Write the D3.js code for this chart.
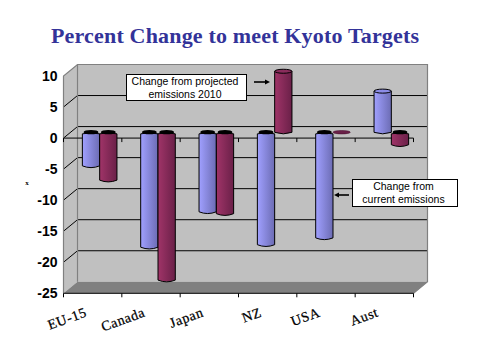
<!DOCTYPE html>
<html>
<head>
  <meta charset="utf-8">
  <title>Percent Change to meet Kyoto Targets</title>
  <style>
    html, body { margin: 0; padding: 0; background: #fff; }
    svg { display: block; }
    .ytick text { font-family: "Liberation Sans", sans-serif; font-weight: bold; font-size: 14px; fill: #000; }
    .cat { font-family: "Liberation Serif", serif; font-size: 14px; fill: #000; stroke: #000; stroke-width: 0.25px; }
    .note { font-family: "Liberation Sans", sans-serif; font-size: 10.5px; fill: #000; text-anchor: middle; }
  </style>
</head>
<body>
  <div id="chart"></div>
  <script src="https://d3js.org/d3.v7.min.js"></script>
  <script>
    const categories = ['EU-15', 'Canada', 'Japan', 'NZ', 'USA', 'Aust'];
    const seriesNames = ['current', 'projected'];
    const currentValues = [-5.4, -18.5, -12.8, -18.1, -17, 6.8];
    const projectedValues = [-7.7, -23.8, -13.1, 10, 0.1, -2];
    const yTicks = [10, 5, 0, -5, -10, -15, -20, -25];
    const noteProjected = ['Change from projected', 'emissions 2010'];
    const noteCurrent = ['Change from', 'current emissions'];

    const width = 478, height = 359;
    const plotLeft = 63.5, plotRight = 413.5, plotTop = 76, plotBottom = 293.3;
    const depth = { x: 14, y: 11.5 };

    const svg = d3.select('#chart').append('svg')
      .attr('width', width)
      .attr('height', height);

    // gradients for the cylinders
    const defs = svg.append('defs');
    const gradients = { current: ['#a0a0ff', '#6c6cb4'], projected: ['#a03468', '#6a2048'] };
    seriesNames.forEach(name => {
      const g = defs.append('linearGradient').attr('id', 'grad-' + name);
      g.append('stop').attr('offset', '0%').attr('stop-color', gradients[name][0]);
      g.append('stop').attr('offset', '100%').attr('stop-color', gradients[name][1]);
    });

    const x = d3.scaleBand().domain(categories).range([plotLeft, plotRight]);
    const y = d3.scaleLinear().domain([-25, 10]).range([plotBottom, plotTop]);
    const inner = d3.scaleBand().domain(seriesNames).range([0, 34.6])
      .paddingInner(0);
    const barLeft = (x.bandwidth() - inner.range()[1]) / 2 + depth.x / 2;

    // title
    svg.append('text')
      .attr('x', 51).attr('y', 43)
      .attr('textLength', 368)
      .attr('font-family', '"Liberation Serif", serif')
      .attr('font-weight', 'bold')
      .attr('font-size', 22)
      .attr('fill', '#333399')
      .text('Percent Change to meet Kyoto Targets');

    // walls and floor
    const wall = '#c0c0c0', edge = '#808080';
    const pts = a => a.map(p => p.join(',')).join(' ');
    svg.append('polygon').attr('fill', wall)
      .attr('points', pts([[plotLeft, plotTop], [plotLeft + depth.x, plotTop - depth.y], [plotRight + depth.x, plotTop - depth.y], [plotRight + depth.x, plotBottom - depth.y], [plotLeft + depth.x, plotBottom - depth.y], [plotLeft, plotBottom]]));
    svg.append('polygon').attr('fill', edge)
      .attr('points', pts([[plotLeft, plotBottom], [plotLeft + depth.x, plotBottom - depth.y], [plotRight + depth.x, plotBottom - depth.y], [plotRight, plotBottom]]));

    // grid
    yTicks.filter(d => d > -25 && d < 10).forEach(d => {
      svg.append('polyline').attr('fill', 'none').attr('stroke', '#000')
        .attr('points', pts([[plotLeft, y(d)], [plotLeft + depth.x, y(d) - depth.y], [plotRight + depth.x, y(d) - depth.y]]));
    });
    svg.append('polyline').attr('fill', 'none').attr('stroke', edge).attr('stroke-width', 1.2)
      .attr('points', pts([[plotLeft, plotBottom], [plotLeft, plotTop], [plotLeft + depth.x, plotTop - depth.y], [plotRight + depth.x, plotTop - depth.y], [plotRight + depth.x, plotBottom - depth.y], [plotRight, plotBottom]]));
    svg.append('line').attr('stroke', edge).attr('stroke-width', 1.2)
      .attr('x1', plotLeft + depth.x).attr('x2', plotLeft + depth.x)
      .attr('y1', plotTop - depth.y).attr('y2', plotBottom - depth.y);

    // y axis labels
    svg.append('g')
      .attr('class', 'ytick')
      .attr('transform', `translate(${plotLeft},0)`)
      .call(d3.axisLeft(y).tickValues(yTicks).tickSize(0).tickPadding(6).tickFormat(d => String(d)))
      .call(g => g.select('.domain').remove());

    // zero line and bottom line with ticks at the category edges
    const edges = categories.map(c => x(c)).concat(plotRight);
    [0, -25].forEach(v => {
      svg.append('line').attr('stroke', '#000')
        .attr('x1', plotLeft).attr('x2', plotRight).attr('y1', y(v)).attr('y2', y(v));
      svg.selectAll(null).data(edges).join('line').attr('stroke', '#000')
        .attr('x1', d => d).attr('x2', d => d)
        .attr('y1', y(v)).attr('y2', y(v) + 4);
    });

    // cylinders sit half way into the depth of the box
    const rows = categories.flatMap((c, i) => [
      { cat: c, name: 'current', value: currentValues[i] },
      { cat: c, name: 'projected', value: projectedValues[i] }
    ]);
    const midY = v => y(v) - depth.y / 2;

    const bars = svg.selectAll('.bar').data(rows).join('g').attr('class', 'bar')
      .attr('transform', d => `translate(${x(d.cat) + barLeft + inner(d.name)},0)`);

    bars.each(function (d) {
      const g = d3.select(this);
      const w = inner.bandwidth(), rx = w / 2, fill = `url(#grad-${d.name})`;
      const y0 = midY(0), y1 = midY(d.value);
      if (Math.abs(d.value) < 0.5) {
        // nearly zero: only a flat sliver is left
        g.append('ellipse').attr('cx', rx).attr('cy', y1 + 0.5).attr('rx', rx).attr('ry', 1.7)
          .attr('fill', '#6a2048').attr('stroke', '#4a1030').attr('stroke-width', 0.6);
      } else if (d.value < 0) {
        g.append('path')
          .attr('d', `M0,${y0 + 1.5}L0,${y1}Q${rx},${y1 + 3.5} ${w},${y1}L${w},${y0 + 1.5}Q${rx},${y0 - 0.5} 0,${y0 + 1.5}Z`)
          .attr('fill', fill).attr('stroke', '#000').attr('stroke-width', 1);
        g.append('ellipse').attr('cx', rx).attr('cy', y0 - 0.2).attr('rx', rx - 1.2).attr('ry', 2.2)
          .attr('fill', '#000');
      } else {
        g.append('path')
          .attr('d', `M0,${y1 + 1}L0,${y0}Q${rx},${y0 + 3} ${w},${y0}L${w},${y1 + 1}Z`)
          .attr('fill', fill).attr('stroke', '#000').attr('stroke-width', 1);
        g.append('ellipse').attr('cx', rx).attr('cy', y1 + 1).attr('rx', rx).attr('ry', 2)
          .attr('fill', d.name === 'current' ? '#8c8ce6' : '#8a2c5c').attr('stroke', '#000').attr('stroke-width', 1);
      }
    });

    // category labels
    svg.selectAll('.cat').data(categories).join('text')
      .attr('class', 'cat')
      .attr('text-anchor', 'end')
      .attr('letter-spacing', 0.6)
      .attr('transform', d => `translate(${x(d) + x.bandwidth() / 2 - 5},316) rotate(-20)`)
      .text(d => d);

    // stray axis title mark
    svg.append('text').attr('x', 27).attr('y', 185)
      .attr('text-anchor', 'middle')
      .attr('font-family', '"Liberation Serif", serif')
      .attr('font-weight', 'bold').attr('font-size', 7)
      .text('x');

    // callouts
    function note(lines, bx, by, bw, bh) {
      svg.append('rect').attr('x', bx).attr('y', by).attr('width', bw).attr('height', bh)
        .attr('fill', '#fff').attr('stroke', '#000');
      lines.forEach((t, i) => {
        svg.append('text').attr('class', 'note')
          .attr('x', bx + bw / 2 - 1.5).attr('y', by + 10.5 + i * 12.6)
          .text(t);
      });
    }
    note(noteProjected, 126.5, 74.5, 120, 26);
    note(noteCurrent, 352.5, 179.5, 105, 27);

    function arrow(x1, x2, ay) {
      const dir = x2 > x1 ? 1 : -1;
      svg.append('line').attr('x1', x1).attr('x2', x2 - dir * 3).attr('y1', ay).attr('y2', ay)
        .attr('stroke', '#000').attr('stroke-width', 1.6);
      svg.append('polygon').attr('fill', '#000')
        .attr('points', pts([[x2, ay], [x2 - dir * 5, ay - 2.5], [x2 - dir * 5, ay + 2.5]]));
    }
    arrow(254, 270, 82);
    arrow(349, 334, 195);
  </script>
</body>
</html>
